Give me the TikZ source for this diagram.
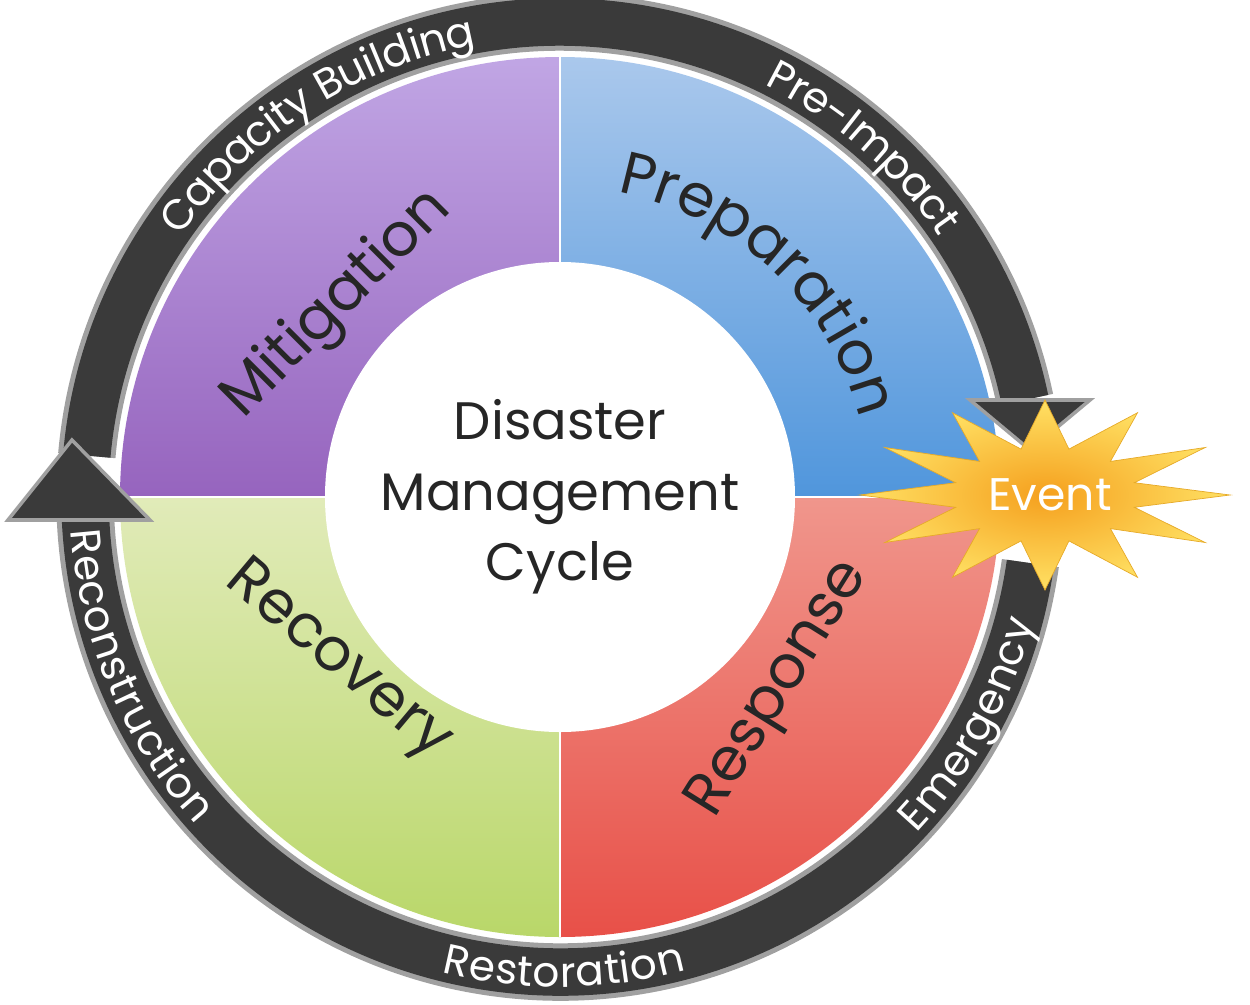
\documentclass[tikz,border=0pt]{standalone}
\usepackage{fontspec}
\setmainfont{Poppins}
\usetikzlibrary{decorations.text}
\definecolor{ringdark}{HTML}{3A3A3A}
\definecolor{ringedge}{HTML}{A0A0A0}
\tikzset{
  ringtext/.style={decorate,decoration={text along path,text align=center,raise=-0.3cm,
     text={|\fontsize{24}{24}\selectfont\color{white}|#1}}},
  quadlabel/.style={font=\fontsize{34}{34}\selectfont,text=black!85},
}
\begin{document}
\begin{tikzpicture}
\useasboundingbox (-11.2,-10.14) rectangle (13.8,9.94);
% quadrants
\shade[top color=purple!40!blue!35!white,bottom color={rgb,255:red,150;green,100;blue,190}] (0,0) -- (90:8.8) arc (90:180:8.8) -- cycle;
\shade[top color={rgb,255:red,170;green,200;blue,236},bottom color={rgb,255:red,80;green,150;blue,220}] (0,0) -- (0:8.8) arc (0:90:8.8) -- cycle;
\shade[top color={rgb,255:red,240;green,150;blue,140},bottom color={rgb,255:red,232;green,80;blue,72}] (0,0) -- (-90:8.8) arc (-90:0:8.8) -- cycle;
\shade[top color={rgb,255:red,225;green,235;blue,185},bottom color={rgb,255:red,185;green,215;blue,105}] (0,0) -- (180:8.8) arc (180:270:8.8) -- cycle;
\draw[white,line width=1pt] (0,-8.8) -- (0,8.8) (-8.8,0) -- (8.8,0);
\fill[white] (0,0) circle (4.7);
\node[align=center,font=\fontsize{30}{40}\selectfont,text=black!85] (title) at (0,0) {Disaster\\Management\\Cycle};
% quadrant labels
\node[quadlabel,rotate=45] (mit) at (-4.45,3.85) {Mitigation};
\path[decorate,decoration={text along path,text align=center,
   text={|\fontsize{34}{34}\selectfont\color{black!85}|Preparation}}] (82:6.2) arc (82:12:6.2);
\node[quadlabel,rotate=-40] (rec) at (-4.45,-3.3) {Recovery};
\node[quadlabel,rotate=58] (resp) at (4.4,-3.85) {Response};
% ring
\foreach \w/\c in {1.15cm/ringedge,0.95cm/ringdark}{
  \draw[line width=\w,color=\c] (175:9.5) arc (175:11.8:9.5);
  \draw[line width=\w,color=\c] (-8:9.5) arc (-8:-177.2:9.5);
}
\filldraw[fill=ringdark,draw=ringedge,line width=2pt] (8.2,1.94) -- (10.6,1.94) -- (9.4,0.94) -- cycle;
\filldraw[fill=ringdark,draw=ringedge,line width=2pt] (-11.04,-0.46) -- (-8.2,-0.46) -- (-9.76,1.14) -- cycle;
% ring texts
\path[ringtext=Capacity Building] (148:9.5) arc (148:98:9.5);
\path[ringtext=Pre-Impact] (64:9.5) arc (64:34:9.5);
\path[ringtext=Emergency] (-46:9.5) arc (-46:-12:9.5);
\path[ringtext=Restoration] (-104:9.5) arc (-104:-75:9.5);
\path[ringtext=Reconstruction] (182:9.5) arc (182:224:9.5);
% event star
\shade[inner color={rgb,255:red,245;green,160;blue,30},outer color={rgb,255:red,255;green,225;blue,100},draw={rgb,255:red,230;green,170;blue,40}]
  plot[samples at={0,...,23}] ({9.7+3.7*(1-0.5*mod(\x,2))*cos(\x*15)},{0.04+1.9*(1-0.5*mod(\x,2))*sin(\x*15)}) -- cycle;
\node[font=\fontsize{26}{26}\selectfont,text=white] (event) at (9.8,0.04) {Event};
\end{tikzpicture}
\end{document}
